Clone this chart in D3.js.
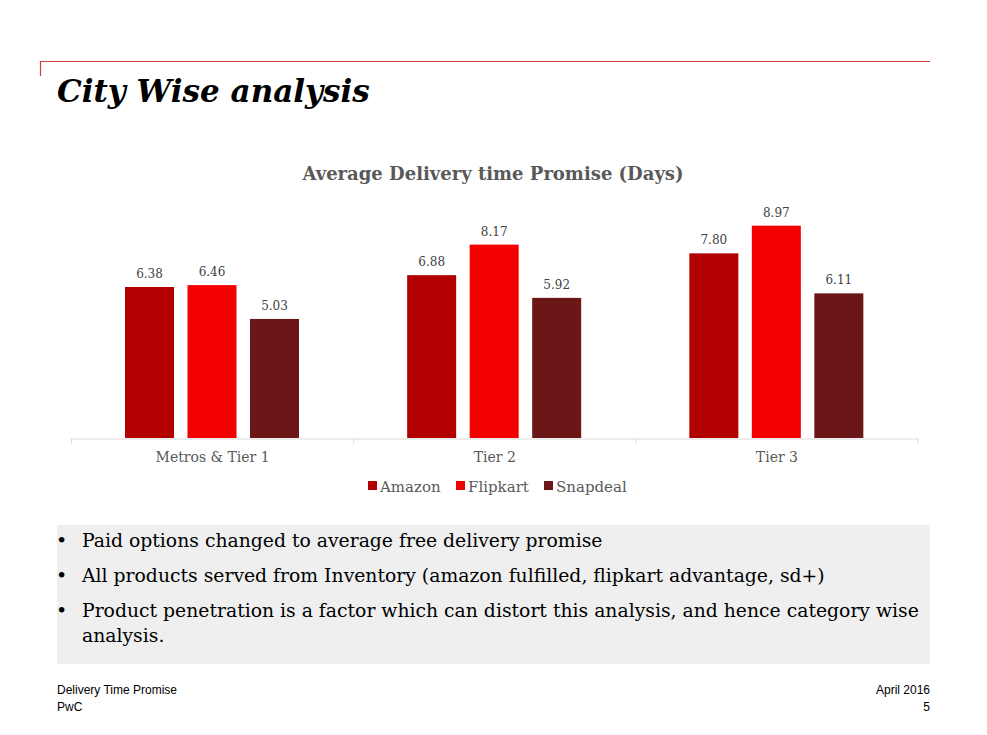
<!DOCTYPE html>
<html>
<head>
<meta charset="utf-8">
<script src="https://cdn.jsdelivr.net/npm/d3@7"></script>
<style>
  body { margin: 0; background: #fff; }
  svg { display: block; }
</style>
</head>
<body>
<svg id="chart" width="987" height="735"></svg>
<script>
const categories = ['Metros & Tier 1', 'Tier 2', 'Tier 3'];
const seriesNames = ['Amazon', 'Flipkart', 'Snapdeal'];
const amazon = [6.38, 6.88, 7.80];
const flipkart = [6.46, 8.17, 8.97];
const snapdeal = [5.03, 5.92, 6.11];
const colors = ['#b20000', '#f50000', '#6b1718'];
const bullets = [
  ['Paid options changed to average free delivery promise'],
  ['All products served from Inventory (amazon fulfilled, flipkart advantage, sd+)'],
  ['Product penetration is a factor which can distort this analysis, and hence category wise', 'analysis.']
];

const serif = "Georgia, 'DejaVu Serif', serif";
const svg = d3.select('#chart');

// header rule + title
svg.append('path').attr('d', 'M40.5,76 V61.5 H930')
  .attr('fill', 'none').attr('stroke', '#d04040').attr('stroke-width', 1.2);
svg.append('text').attr('x', 57).attr('y', 102)
  .attr('font-family', serif).attr('font-style', 'italic').attr('font-weight', 'bold')
  .attr('font-size', 31).attr('fill', '#000').text('City Wise analysis');

svg.append('text').attr('x', 493).attr('y', 180).attr('text-anchor', 'middle')
  .attr('font-family', serif).attr('font-weight', 'bold').attr('font-size', 18)
  .attr('fill', '#595959').text('Average Delivery time Promise (Days)');

const rows = categories.map((c, i) => ({
  cat: c, vals: [amazon[i], flipkart[i], snapdeal[i]]
}));

const x0 = d3.scaleBand().domain(categories).range([71.5, 918]).padding(0);
const x1 = d3.scaleBand().domain(seriesNames)
  .range([53.5, 227.5]).paddingInner(0.216).paddingOuter(0);
const y = d3.scaleLinear().domain([0, 10]).range([438, 201.3]);

const g = svg.selectAll('.grp').data(rows).enter().append('g')
  .attr('transform', d => `translate(${x0(d.cat)},0)`);

g.selectAll('rect').data(d => d.vals.map((v, k) => ({ name: seriesNames[k], v, k })))
  .enter().append('rect')
  .attr('x', d => x1(d.name)).attr('width', x1.bandwidth())
  .attr('y', d => y(d.v)).attr('height', d => y(0) - y(d.v))
  .attr('fill', d => colors[d.k]);

g.selectAll('.lbl').data(d => d.vals.map((v, k) => ({ name: seriesNames[k], v })))
  .enter().append('text')
  .attr('x', d => x1(d.name) + x1.bandwidth() / 2).attr('y', d => y(d.v) - 9)
  .attr('text-anchor', 'middle').attr('font-family', serif).attr('font-size', 12)
  .attr('fill', '#404040').text(d => d.v.toFixed(2));

const axis = svg.append('g').attr('transform', 'translate(0,438.5)')
  .call(d3.axisBottom(x0).tickSize(0).tickPadding(14));
axis.select('.domain').attr('stroke', '#d9d9d9');
axis.selectAll('text').attr('font-family', serif).attr('font-size', 14).attr('fill', '#595959');
axis.selectAll('.sep').data(x0.range().concat(categories.slice(1).map(c => x0(c))))
  .enter().append('line').attr('x1', d => d).attr('x2', d => d)
  .attr('y1', 0).attr('y2', 5).attr('stroke', '#d9d9d9');

// legend
const legX = [368, 456, 544];
const leg = svg.selectAll('.leg').data(seriesNames).enter().append('g')
  .attr('transform', (d, i) => `translate(${legX[i]},488)`);
leg.append('rect').attr('x', 0).attr('y', -7).attr('width', 9).attr('height', 9)
  .attr('fill', (d, i) => colors[i]);
leg.append('text').attr('x', 12).attr('y', 4).attr('font-family', serif)
  .attr('font-size', 15).attr('fill', '#595959').text(d => d);

// bullet box
svg.append('rect').attr('x', 57).attr('y', 525).attr('width', 873).attr('height', 139)
  .attr('fill', '#efefef');
const by = [547, 582, 617];
bullets.forEach((lines, i) => {
  svg.append('text').attr('x', 56).attr('y', by[i]).attr('font-family', serif)
    .attr('font-size', 19).attr('fill', '#000').text('•');
  lines.forEach((t, j) => {
    svg.append('text').attr('x', 82).attr('y', by[i] + j * 25).attr('font-family', serif)
      .attr('font-size', 18.8).attr('fill', '#000').text(t);
  });
});

// footer
const sans = "Arial, 'Liberation Sans', sans-serif";
[['Delivery Time Promise', 57, 694, 'start'], ['PwC', 57, 711, 'start'],
 ['April 2016', 930, 694, 'end'], ['5', 930, 711, 'end']].forEach(f => {
  svg.append('text').attr('x', f[1]).attr('y', f[2]).attr('text-anchor', f[3])
    .attr('font-family', sans).attr('font-size', 12).attr('fill', '#000').text(f[0]);
});
</script>
</body>
</html>
